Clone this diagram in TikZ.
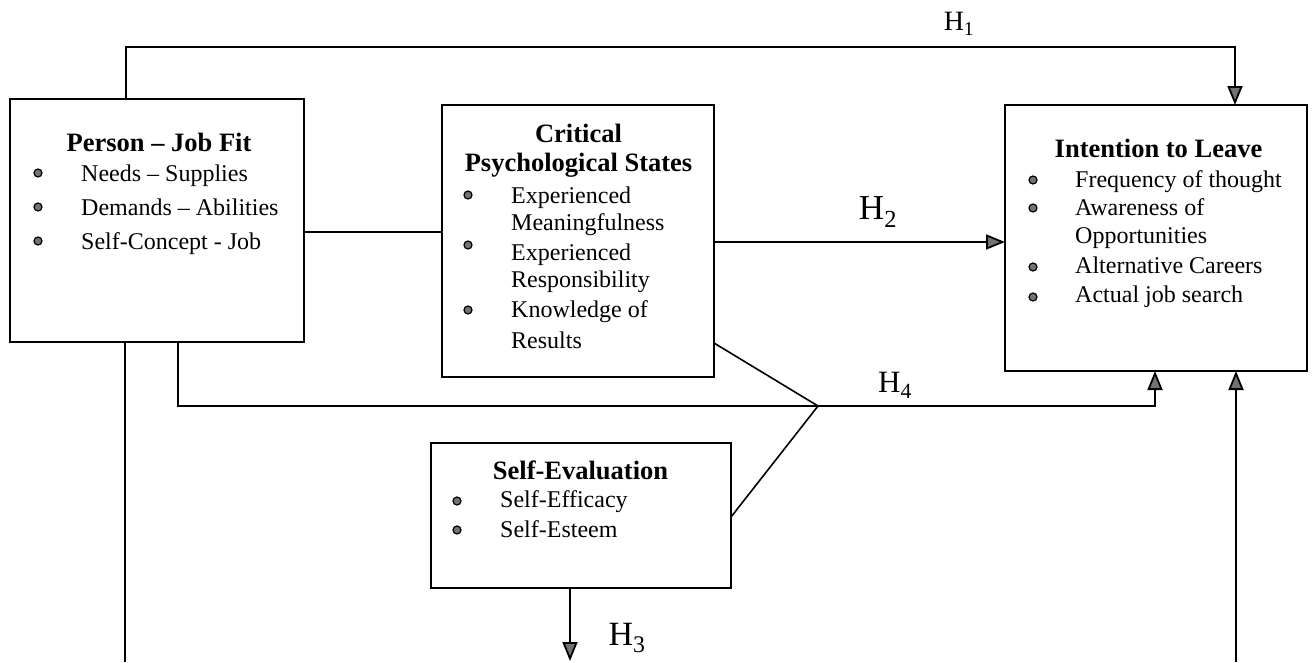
\documentclass[tikz,border=0pt]{standalone}
\usepackage{fontspec}
\setmainfont{Liberation Serif}
\usetikzlibrary{arrows.meta}
\begin{document}
\begin{tikzpicture}[x=1pt,y=-1pt,
 box/.style={draw, line width=1.9pt, inner sep=0pt, outer sep=0pt},
 ln/.style={line width=1.6pt},
 arr/.style={line width=1.9pt, -{Triangle[length=19pt,width=15pt,line width=1.8pt,fill=black!55]}},
 itm/.style={anchor=base west, inner sep=0pt, font=\fontsize{24}{28}\selectfont},
 ttl/.style={anchor=base, inner sep=0pt, font=\fontsize{26.5}{30}\selectfont\bfseries},
 bul/.style={circle, draw, line width=1.2pt, fill=black!55, inner sep=0pt, minimum size=8pt},
 hl/.style={inner sep=0pt, anchor=center}]
\useasboundingbox (0,0) rectangle (1312,662);

% boxes
\node[box, minimum width=294pt, minimum height=243pt] (pjf) at (157,220.5) {};
\node[box, minimum width=272pt, minimum height=272pt] (cps) at (578,241) {};
\node[box, minimum width=302pt, minimum height=266pt] (itl) at (1156,238) {};
\node[box, minimum width=300pt, minimum height=145pt] (se) at (581,515.5) {};

% Person - Job Fit
\node[ttl] (pjft) at (159,151) {Person -- Job Fit};
\node[bul] (pb1) at (38,173) {};
\node[bul] (pb2) at (38,207) {};
\node[bul] (pb3) at (38,241) {};
\node[itm] (pi1) at (81,181) {Needs -- Supplies};
\node[itm] (pi2) at (81,215) {Demands -- Abilities};
\node[itm] (pi3) at (81,249) {Self-Concept - Job};

% Critical Psychological States
\node[ttl] (cpst1) at (578.5,142) {Critical};
\node[ttl] (cpst2) at (578.5,171) {Psychological States};
\node[bul] (cb1) at (468,195) {};
\node[bul] (cb2) at (468,245) {};
\node[bul] (cb3) at (468,310) {};
\node[itm] (ci1) at (511,203) {Experienced};
\node[itm] (ci2) at (511,230) {Meaningfulness};
\node[itm] (ci3) at (511,260) {Experienced};
\node[itm] (ci4) at (511,287) {Responsibility};
\node[itm] (ci5) at (511,317) {Knowledge of};
\node[itm] (ci6) at (511,348) {Results};

% Intention to Leave
\node[ttl] (itlt) at (1158.5,157) {Intention to Leave};
\node[bul] (ib1) at (1033,180) {};
\node[bul] (ib2) at (1033,208) {};
\node[bul] (ib3) at (1033,267) {};
\node[bul] (ib4) at (1033,297) {};
\node[itm] (ii1) at (1075,187) {Frequency of thought};
\node[itm] (ii2) at (1075,215) {Awareness of};
\node[itm] (ii3) at (1075,243) {Opportunities};
\node[itm] (ii4) at (1075,273) {Alternative Careers};
\node[itm] (ii5) at (1075,302) {Actual job search};

% Self-Evaluation
\node[ttl] (set) at (580.5,479) {Self-Evaluation};
\node[bul] (sb1) at (457,501) {};
\node[bul] (sb2) at (457,530) {};
\node[itm] (si1) at (500,507) {Self-Efficacy};
\node[itm] (si2) at (500,537) {Self-Esteem};

% coordinates
\coordinate (h1a) at (126,47);
\coordinate (h1b) at (1235,47);
\coordinate (pc) at (0,232);
\coordinate (h2y) at (0,242);
\coordinate (h4a) at (178,406);
\coordinate (h4b) at (1155,406);
\coordinate (jn) at (818,406);
\coordinate (cpsj) at (0,343);
\coordinate (sej) at (0,517);
\coordinate (h3end) at (570,661);
\coordinate (lbot) at (125,662);
\coordinate (rbot) at (1236,662);

% connectors
\draw[arr] (pjf.north -| h1a) -- (h1a) -- (h1b) -- (itl.north -| h1b);
\draw[ln] (pjf.east |- pc) -- (cps.west |- pc);
\draw[arr, line width=2.8pt] (cps.east |- h2y) -- (itl.west |- h2y);
\draw[arr] (pjf.south -| h4a) -- (h4a) -- (h4b) -- (itl.south -| h4b);
\draw[ln] (cps.east |- cpsj) -- (jn) -- (se.east |- sej);
\draw[arr] (se.south -| h3end) -- (h3end);
\draw[ln] (pjf.south -| lbot) -- (lbot);
\draw[arr, line width=2.4pt] (rbot) -- (itl.south -| rbot);

% labels
\node[hl, font=\fontsize{28}{30}\selectfont] (h1) at (959,24) {H\textsubscript{1}};
\node[hl, font=\fontsize{35}{38}\selectfont] (h2) at (878,212) {H\textsubscript{2}};
\node[hl, font=\fontsize{34}{36}\selectfont] (h3) at (627,638) {H\textsubscript{3}};
\node[hl, font=\fontsize{31}{34}\selectfont] (h4) at (895,385) {H\textsubscript{4}};
\end{tikzpicture}
\end{document}
